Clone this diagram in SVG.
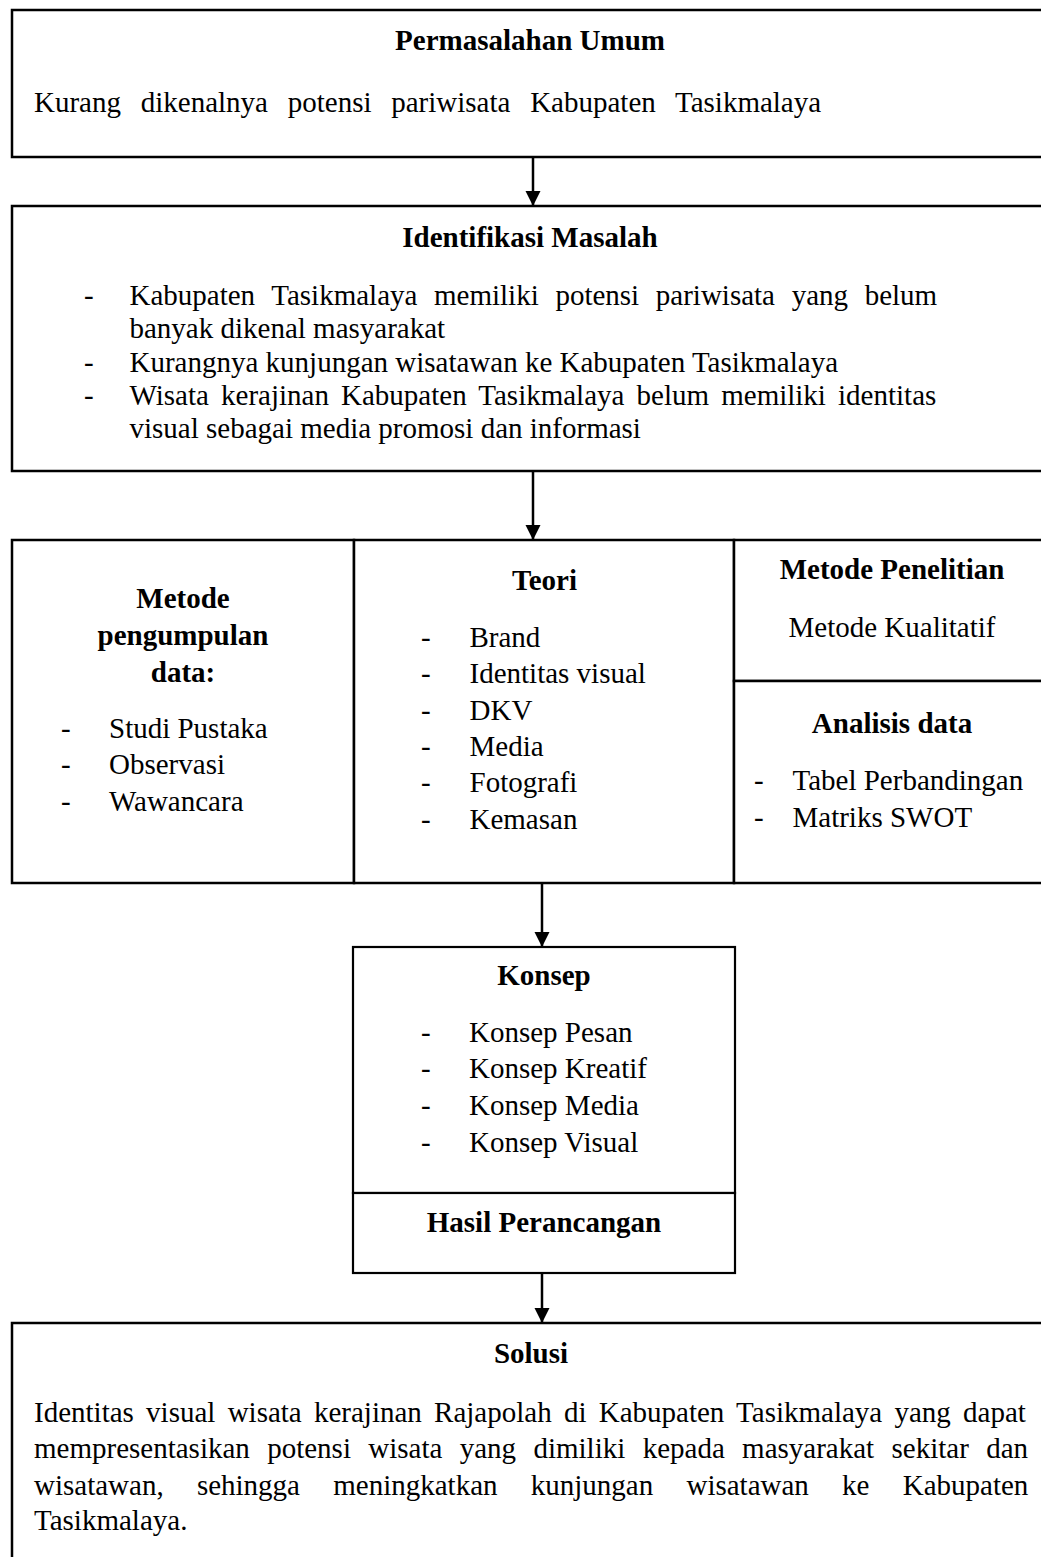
<svg xmlns="http://www.w3.org/2000/svg" width="1041" height="1557" viewBox="0 0 1041 1557">
<defs>
<style>
.box{fill:#fff;stroke:#000;stroke-width:2.5}
.t{font-family:"Liberation Serif","Times New Roman",serif;font-size:29px;fill:#000}
.b{font-weight:bold}
.c{text-anchor:middle}
.cn{stroke:#000;stroke-width:2.5;fill:none}
</style>
<marker id="ah" markerUnits="userSpaceOnUse" markerWidth="16" markerHeight="16" viewBox="0 0 16 16" refX="15" refY="8" orient="auto">
<path d="M0,0.5 L15,8 L0,15.5 z" fill="#000"/>
</marker>
</defs>
<rect x="0" y="0" width="1041" height="1557" fill="#fff"/>

<g id="permasalahan-umum">
<rect class="box" x="12" y="10" width="1036" height="147"/>
<text class="t b c" x="530" y="50">Permasalahan Umum</text>
<text class="t" x="34" y="112" word-spacing="12.5">Kurang dikenalnya potensi pariwisata Kabupaten Tasikmalaya</text>
</g>

<g id="identifikasi-masalah">
<rect class="box" x="12" y="206" width="1036" height="265"/>
<text class="t b c" x="530" y="247">Identifikasi Masalah</text>
<text class="t" x="84" y="305">-</text>
<text class="t" x="129.5" y="305" word-spacing="9.4">Kabupaten Tasikmalaya memiliki potensi pariwisata yang belum</text>
<text class="t" x="129.5" y="338">banyak dikenal masyarakat</text>
<text class="t" x="84" y="372">-</text>
<text class="t" x="129.5" y="372">Kurangnya kunjungan wisatawan ke Kabupaten Tasikmalaya</text>
<text class="t" x="84" y="405">-</text>
<text class="t" x="129.5" y="405" word-spacing="4.9">Wisata kerajinan Kabupaten Tasikmalaya belum memiliki identitas</text>
<text class="t" x="129.5" y="438">visual sebagai media promosi dan informasi</text>
</g>

<g id="metode-pengumpulan-data">
<rect class="box" x="12" y="540" width="342" height="343"/>
<text class="t b c" x="183" y="608">Metode</text>
<text class="t b c" x="183" y="645">pengumpulan</text>
<text class="t b c" x="183" y="682">data:</text>
<text class="t" x="61" y="738">-</text>
<text class="t" x="109" y="738">Studi Pustaka</text>
<text class="t" x="61" y="774">-</text>
<text class="t" x="109" y="774">Observasi</text>
<text class="t" x="61" y="811">-</text>
<text class="t" x="109" y="811">Wawancara</text>
</g>

<g id="teori">
<rect class="box" x="354" y="540" width="380" height="343"/>
<text class="t b c" x="544.5" y="590">Teori</text>
<text class="t" x="421" y="647">-</text>
<text class="t" x="469.5" y="647">Brand</text>
<text class="t" x="421" y="683">-</text>
<text class="t" x="469.5" y="683">Identitas visual</text>
<text class="t" x="421" y="720">-</text>
<text class="t" x="469.5" y="720">DKV</text>
<text class="t" x="421" y="756">-</text>
<text class="t" x="469.5" y="756">Media</text>
<text class="t" x="421" y="792">-</text>
<text class="t" x="469.5" y="792">Fotografi</text>
<text class="t" x="421" y="829">-</text>
<text class="t" x="469.5" y="829">Kemasan</text>
</g>

<g id="metode-penelitian">
<rect class="box" x="734" y="540" width="314" height="141"/>
<text class="t b c" x="892" y="579">Metode Penelitian</text>
<text class="t c" x="892" y="637">Metode Kualitatif</text>
</g>

<g id="analisis-data">
<rect class="box" x="734" y="681" width="314" height="202"/>
<text class="t b c" x="892" y="733">Analisis data</text>
<text class="t" x="754" y="790">-</text>
<text class="t" x="792.5" y="790">Tabel Perbandingan</text>
<text class="t" x="754" y="827">-</text>
<text class="t" x="792.5" y="827">Matriks SWOT</text>
</g>

<g id="konsep">
<rect class="box" x="353" y="947" width="382" height="246" style="stroke-width:2.2"/>
<text class="t b c" x="544" y="985">Konsep</text>
<text class="t" x="421" y="1042">-</text>
<text class="t" x="469" y="1042">Konsep Pesan</text>
<text class="t" x="421" y="1078">-</text>
<text class="t" x="469" y="1078">Konsep Kreatif</text>
<text class="t" x="421" y="1115">-</text>
<text class="t" x="469" y="1115">Konsep Media</text>
<text class="t" x="421" y="1152">-</text>
<text class="t" x="469" y="1152">Konsep Visual</text>
</g>

<g id="hasil-perancangan">
<rect class="box" x="353" y="1193" width="382" height="80" style="stroke-width:2.2"/>
<text class="t b c" x="544" y="1232">Hasil Perancangan</text>
</g>

<g id="solusi">
<rect class="box" x="12" y="1323" width="1036" height="260"/>
<text class="t b c" x="531" y="1363">Solusi</text>
<text class="t" x="34" y="1422" word-spacing="5">Identitas visual wisata kerajinan Rajapolah di Kabupaten Tasikmalaya yang dapat</text>
<text class="t" x="34" y="1458" word-spacing="10.1">mempresentasikan potensi wisata yang dimiliki kepada masyarakat sekitar dan</text>
<text class="t" x="34" y="1495" word-spacing="26">wisatawan, sehingga meningkatkan kunjungan wisatawan ke Kabupaten</text>
<text class="t" x="34" y="1530">Tasikmalaya.</text>
</g>

<g id="connectors">
<line class="cn" x1="533" y1="157" x2="533" y2="206" marker-end="url(#ah)"/>
<line class="cn" x1="533" y1="471" x2="533" y2="540" marker-end="url(#ah)"/>
<line class="cn" x1="542" y1="883" x2="542" y2="947" marker-end="url(#ah)"/>
<line class="cn" x1="542" y1="1273" x2="542" y2="1323" marker-end="url(#ah)"/>
</g>
</svg>
